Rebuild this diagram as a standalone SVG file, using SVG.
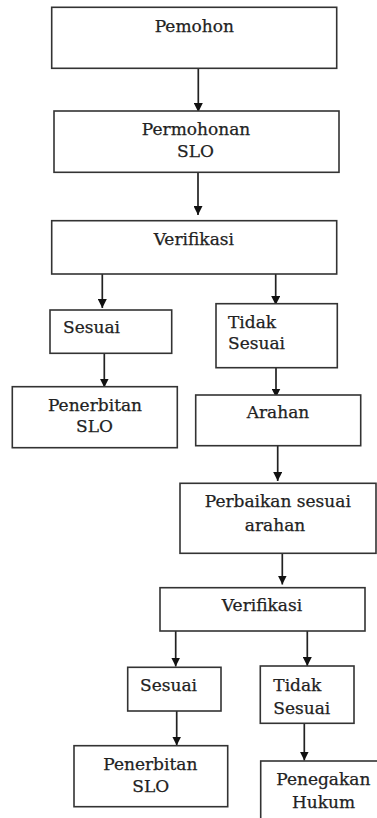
<svg xmlns="http://www.w3.org/2000/svg" width="377" height="818" viewBox="0 0 377 818">
<style>
.box{fill:#fff;stroke:#333;stroke-width:1.6}
.t{font-family:"DejaVu Serif","Liberation Serif",serif;font-size:17px;fill:#222;stroke:#222;stroke-width:0.25}
.c{text-anchor:middle}
.ln{stroke:#222;stroke-width:1.7;fill:none;marker-end:url(#ah)}
</style>
<defs>
<marker id="ah" viewBox="0 0 10 10" refX="10" refY="5" markerWidth="9" markerHeight="9" markerUnits="userSpaceOnUse" orient="auto">
<path d="M0,0 L10,5 L0,10 z" fill="#111"/>
</marker>
</defs>
<rect width="377" height="818" fill="#fff"/>
<g id="connectors">
<line class="ln" x1="198.3" y1="68.3" x2="198.3" y2="112"/>
<line class="ln" x1="198" y1="172.3" x2="198" y2="215"/>
<line class="ln" x1="102.3" y1="274" x2="102.3" y2="308"/>
<line class="ln" x1="275.7" y1="274" x2="275.7" y2="305"/>
<line class="ln" x1="104.3" y1="353.3" x2="104.3" y2="387.5"/>
<line class="ln" x1="276" y1="364" x2="276" y2="397.5"/>
<line class="ln" x1="277.7" y1="445.7" x2="277.7" y2="481"/>
<line class="ln" x1="282.3" y1="553" x2="282.3" y2="584.5"/>
<line class="ln" x1="175.7" y1="631" x2="175.7" y2="666.5"/>
<line class="ln" x1="307.3" y1="631" x2="307.3" y2="666"/>
<line class="ln" x1="176.7" y1="711" x2="176.7" y2="745.5"/>
<line class="ln" x1="304.3" y1="723" x2="304.3" y2="760.5"/>
</g>
<g id="pemohon">
<rect class="box" x="51.7" y="7.3" width="285" height="61"/>
<text class="t c" x="194.3" y="32">Pemohon</text>
</g>
<g id="permohonan">
<rect class="box" x="54" y="111" width="285" height="61.3"/>
<text class="t c" x="196" y="135">Permohonan</text>
<text class="t c" x="195.5" y="156.7">SLO</text>
</g>
<g id="verifikasi1">
<rect class="box" x="51.7" y="220.7" width="285" height="53.3"/>
<text class="t c" x="193.8" y="245">Verifikasi</text>
</g>
<g id="sesuai1">
<rect class="box" x="50" y="310" width="121.7" height="43.3"/>
<text class="t" x="63" y="333.3">Sesuai</text>
</g>
<g id="tidaksesuai1">
<rect class="box" x="216" y="303.7" width="121.3" height="64"/>
<text class="t" x="228" y="328.3">Tidak</text>
<text class="t" x="228" y="349">Sesuai</text>
</g>
<g id="penerbitan1">
<rect class="box" x="12.3" y="386.7" width="165" height="61"/>
<text class="t c" x="95" y="410.7">Penerbitan</text>
<text class="t c" x="94.5" y="431.7">SLO</text>
</g>
<g id="arahan">
<rect class="box" x="195.7" y="395" width="165" height="50.7"/>
<text class="t c" x="278" y="418.3">Arahan</text>
</g>
<g id="perbaikan">
<rect class="box" x="180" y="483.3" width="196" height="70"/>
<text class="t c" x="277.8" y="507.3">Perbaikan sesuai</text>
<text class="t c" x="275" y="530.7">arahan</text>
</g>
<g id="verifikasi2">
<rect class="box" x="160" y="587.7" width="205" height="43.3"/>
<text class="t c" x="262" y="611">Verifikasi</text>
</g>
<g id="sesuai2">
<rect class="box" x="127.7" y="667.3" width="93.3" height="43.7"/>
<text class="t" x="140" y="690.7">Sesuai</text>
</g>
<g id="tidaksesuai2">
<rect class="box" x="260.3" y="666" width="93.7" height="57.3"/>
<text class="t" x="273.3" y="690.7">Tidak</text>
<text class="t" x="273.3" y="714">Sesuai</text>
</g>
<g id="penerbitan2">
<rect class="box" x="74" y="745.7" width="153.7" height="61"/>
<text class="t c" x="150.3" y="770">Penerbitan</text>
<text class="t c" x="150.8" y="792.3">SLO</text>
</g>
<g id="penegakan">
<rect class="box" x="260.7" y="761" width="140" height="80"/>
<text class="t c" x="323.3" y="785">Penegakan</text>
<text class="t c" x="323.5" y="808.3">Hukum</text>
</g>
</svg>
